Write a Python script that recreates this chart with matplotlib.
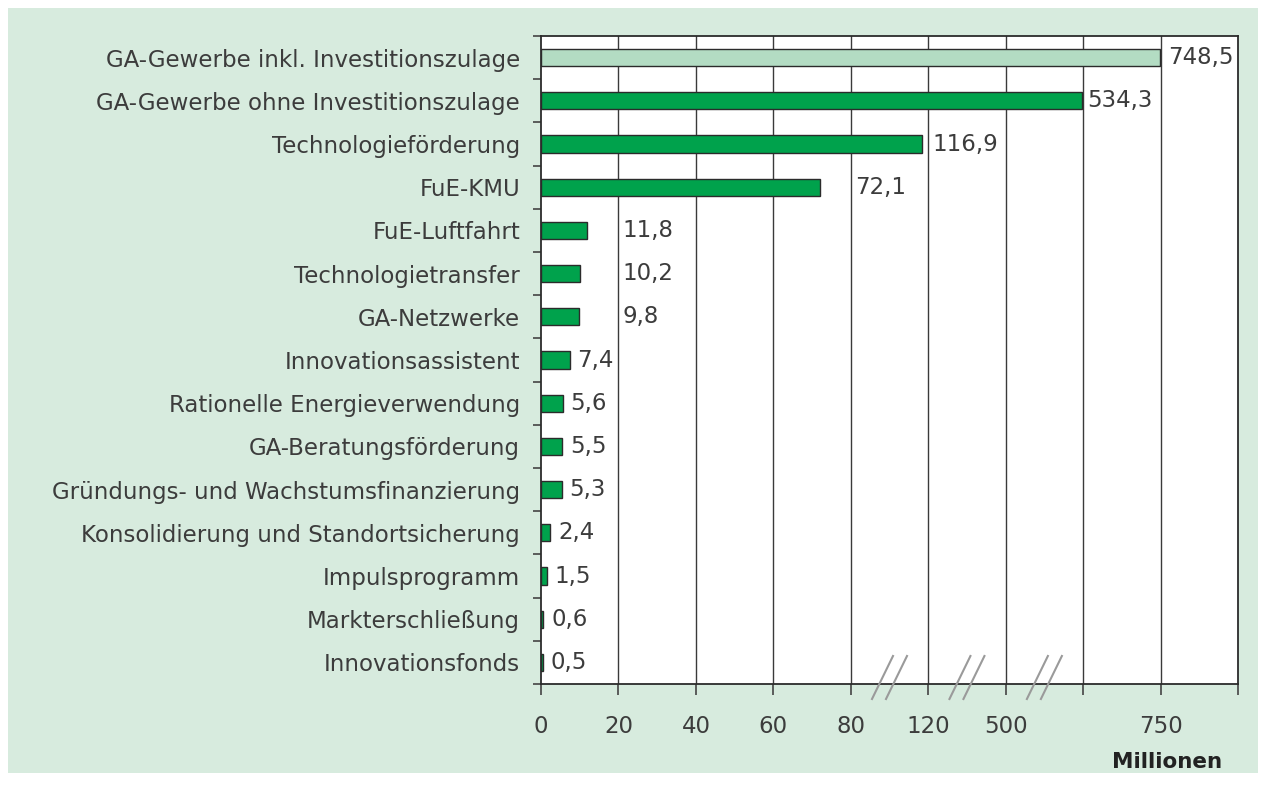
import numpy as np
import matplotlib
matplotlib.use("Agg")
import matplotlib.pyplot as plt
from matplotlib.patches import Rectangle
from matplotlib.lines import Line2D

categories = [
    "GA-Gewerbe inkl. Investitionszulage",
    "GA-Gewerbe ohne Investitionszulage",
    "Technologieförderung",
    "FuE-KMU",
    "FuE-Luftfahrt",
    "Technologietransfer",
    "GA-Netzwerke",
    "Innovationsassistent",
    "Rationelle Energieverwendung",
    "GA-Beratungsförderung",
    "Gründungs- und Wachstumsfinanzierung",
    "Konsolidierung und Standortsicherung",
    "Impulsprogramm",
    "Markterschließung",
    "Innovationsfonds",
]
values = [748.5, 534.3, 116.9, 72.1, 11.8, 10.2, 9.8, 7.4, 5.6, 5.5, 5.3, 2.4, 1.5, 0.6, 0.5]
value_labels = ["748,5", "534,3", "116,9", "72,1", "11,8", "10,2", "9,8", "7,4",
                "5,6", "5,5", "5,3", "2,4", "1,5", "0,6", "0,5"]
highlight = [True] + [False] * 14

# broken axis: gridline values (unlabeled ones get empty labels)
grid_values = [0, 20, 40, 60, 80, 120, 500, 535, 750, 850]
grid_labels = ["0", "20", "40", "60", "80", "120", "500", "", "750", ""]
grid_pos = [0, 1, 2, 3, 4, 5, 6, 7, 8, 9]

def fwd(v):
    return np.interp(v, grid_values, grid_pos)

def inv(p):
    return np.interp(p, grid_pos, grid_values)

BG = "#d7ebde"
GREEN = "#00a24c"
LIGHT = "#b3dcc3"
EDGE = "#2b2b2b"
TXT = "#3c3c3c"
FONT = "DejaVu Sans"
FS = 16.5

W, H = 1267, 785
fig = plt.figure(figsize=(W / 100, H / 100), dpi=100)
fig.patch.set_facecolor("white")
fig.patches.append(Rectangle((8 / W, 12 / H), 1250 / W, 765 / H,
                             transform=fig.transFigure, facecolor=BG,
                             edgecolor="none", zorder=-10))

left, right, top, bottom = 541, 1238, 36, 684
ax = fig.add_axes([left / W, 1 - bottom / H, (right - left) / W, (bottom - top) / H])
ax.set_facecolor("white")
ax.set_xscale("function", functions=(fwd, inv))
ax.set_xlim(0, 850)

n = len(categories)
y = np.arange(n)
colors = [LIGHT if h else GREEN for h in highlight]
ax.barh(y, values, height=0.4, color=colors, edgecolor=EDGE, linewidth=1.0, zorder=3)
ax.set_ylim(n - 0.5, -0.5)

ax.set_xticks(grid_values)
ax.set_xticklabels(grid_labels)
for gv in grid_values[1:-1]:
    ax.axvline(gv, color="#3a3a3a", linewidth=1.0, zorder=1)

ax.set_yticks(y)
ax.set_yticklabels(categories)
ax.set_yticks(np.arange(n + 1) - 0.5, minor=True)
ax.tick_params(axis="y", which="major", length=0, pad=15, labelsize=FS, labelcolor=TXT)
ax.tick_params(axis="y", which="minor", length=6, width=1.2, color="#444444", direction="out")
ax.tick_params(axis="x", which="major", length=8, width=1.2, color="#444444",
               pad=14, labelsize=FS, labelcolor=TXT)
ax.tick_params(axis="x", which="minor", length=0)
for lab in ax.get_xticklabels() + ax.get_yticklabels():
    lab.set_fontfamily(FONT)

for s in ax.spines.values():
    s.set_color("#2b2b2b")
    s.set_linewidth(1.3)

# value labels: placed just right of the bar, moved past a gridline they would cross
fig.canvas.draw()
renderer = fig.canvas.get_renderer()
px_per_unit = (right - left) / 9.0
for yi, v, lab in zip(y, values, value_labels):
    t = ax.text(0, yi, lab, fontsize=FS, color=TXT, family=FONT,
                va="center", ha="left")
    wpx = t.get_window_extent(renderer).width
    wpos = wpx / px_per_unit
    start = fwd(v) + 0.1
    for g in grid_pos[1:]:
        if start - 0.08 < g < start + wpos + 0.02:
            start = g + 0.05
            break
    t.set_x(inv(start))

# axis break markers
for bpos in [4.5, 5.5, 6.5]:
    for dx in [-7, 7]:
        xc = left + bpos * px_per_unit + dx
        x0, x1 = (xc - 10.5) / W, (xc + 10.5) / W
        y0, y1 = 1 - 699 / H, 1 - 656 / H
        fig.add_artist(Line2D([x0, x1], [y0, y1], transform=fig.transFigure,
                              color="#9a9a9a", linewidth=1.5, zorder=20))

fig.text(1222 / W, 1 - 762 / H, "Millionen", ha="right", va="center",
         fontsize=15.5, fontweight="bold", color="#222222", family=FONT)

fig.savefig("out.png", dpi=100, facecolor=fig.get_facecolor())
